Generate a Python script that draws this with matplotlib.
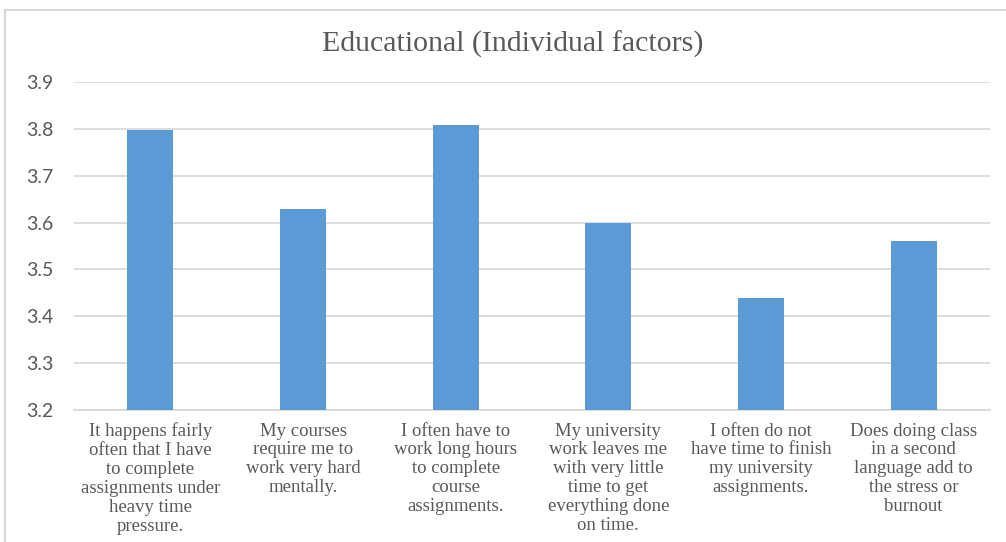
"""Bar chart of mean scores for individual educational stress factors."""
import matplotlib
matplotlib.use("Agg")
import matplotlib.pyplot as plt
from matplotlib.patches import Rectangle

categories = [
    "It happens fairly\noften that I have\nto complete\nassignments under\nheavy time\npressure.",
    "My courses\nrequire me to\nwork very hard\nmentally.",
    "I often have to\nwork long hours\nto complete\ncourse\nassignments.",
    "My university\nwork leaves me\nwith very little\ntime to get\neverything done\non time.",
    "I often do not\nhave time to finish\nmy university\nassignments.",
    "Does doing class\nin a second\nlanguage add to\nthe stress or\nburnout",
]
scores = [3.797, 3.63, 3.808, 3.60, 3.44, 3.56]
y_ticks = [3.2, 3.3, 3.4, 3.5, 3.6, 3.7, 3.8, 3.9]

GREY_TEXT = "#595959"
GRID = "#d9d9d9"
BAR = "#5b9bd5"

W, H = 1006, 542
fig = plt.figure(figsize=(W / 100, H / 100), dpi=100)
fig.patch.set_facecolor("white")

# chart frame
fig.patches.append(Rectangle((5 / W, -0.05), 1.1, 1 - 10 / H + 0.05,
                             transform=fig.transFigure, fill=False,
                             edgecolor=GRID, linewidth=1.5))

ax = fig.add_axes([74 / W, 1 - 410 / H, (990 - 74) / W, (410 - 82) / H])
x = range(len(scores))
ax.bar(x, scores, width=0.3, color=BAR, zorder=3)

ax.set_ylim(3.2, 3.9)
ax.set_xlim(-0.5, len(scores) - 0.5)
ax.set_yticks(y_ticks)
ax.set_yticklabels([f"{v:.1f}" for v in y_ticks], fontfamily="Lato",
                   fontsize=14, color=GREY_TEXT)
ax.set_xticks(list(x))
ax.set_xticklabels(categories, fontfamily="Liberation Serif", fontsize=13.5,
                   color=GREY_TEXT, multialignment="center", linespacing=1.15)
ax.tick_params(axis="both", length=0)
ax.tick_params(axis="y", pad=15)
ax.tick_params(axis="x", pad=9)

ax.grid(axis="y", color=GRID, linewidth=1.3, zorder=0)
for side in ("top", "right", "left"):
    ax.spines[side].set_visible(False)
ax.spines["bottom"].set_color(GRID)
ax.spines["bottom"].set_linewidth(1.3)

fig.text(513 / W, 1 - 44 / H, "Educational (Individual factors)",
         fontfamily="Liberation Serif", fontsize=21.5, color=GREY_TEXT,
         ha="center", va="center")

fig.savefig("out.png", dpi=100)
